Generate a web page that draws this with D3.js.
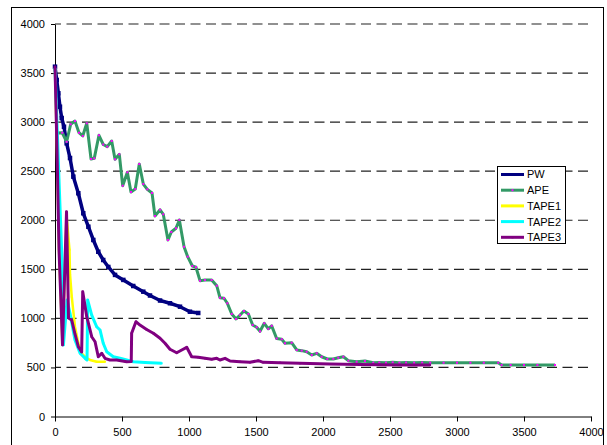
<!DOCTYPE html>
<html>
<head>
<meta charset="utf-8">
<script src="https://cdn.jsdelivr.net/npm/d3@7"></script>
<style>
  body { margin: 0; background: #fff; }
  svg { display: block; font-family: Arial, "Liberation Sans", sans-serif; }
</style>
</head>
<body>
<svg id="chart" width="607" height="445"></svg>
<script>
// series values, [x, y]
var pw = [[0,3565],[13,3429],[25,3294],[37,3157],[50,3042],[67,2953],[87,2784],[112,2634],
  [137,2444],[174,2275],[211,2071],[249,1934],[286,1799],[323,1679],[360,1595],[398,1524],
  [448,1443],[510,1392],[584,1330],[659,1272],[709,1233],[784,1182],[858,1154],[933,1119],
  [1007,1068],[1069,1055]];

var ape = [[15,2889],[54,2892],[87,2800],[117,2978],[149,3011],[179,2892],[207,2859],[237,2988],
  [269,2624],[293,2631],[328,2866],[360,2772],[390,2750],[423,2808],[448,2621],[480,2672],
  [505,2352],[540,2489],[567,2288],[599,2318],[629,2573],[659,2369],[689,2315],[724,2278],
  [746,2043],[784,2107],[808,2061],[843,1799],[868,1880],[903,1918],[928,2003],[963,1730],
  [990,1629],[1025,1534],[1052,1521],[1082,1384],[1119,1391],[1169,1391],[1207,1333],
  [1231,1211],[1261,1205],[1286,1154],[1319,1045],[1351,994],[1381,1034],[1410,1075],
  [1443,1045],[1475,933],[1505,909],[1530,868],[1562,950],[1592,894],[1617,924],[1654,795],
  [1692,787],[1716,746],[1766,752],[1804,678],[1841,671],[1878,660],[1916,627],[1953,644],
  [1990,609],[2032,586],[2077,586],[2114,599],[2152,609],[2189,569],[2251,558],[2313,566],
  [2375,548],[2420,550],[2470,548],[2520,552],[2570,548],[2620,550],[2680,548],[2740,550],
  [2800,548],[2900,548],[3000,548],[3100,548],[3200,548],[3308,548],[3333,525],[3400,525],
  [3500,525],[3600,525],[3731,525]];

var tape1 = [[0,3552],[15,2716],[30,1697],[56,740],[86,2050],[108,1700],[112,1450],[125,1221],
  [149,915],[174,746],[199,644],[224,609],[261,576],[311,558],[373,558]];

var tape2 = [[0,3552],[30,2410],[52,1595],[63,729],[90,1187],[112,1052],[149,780],[187,644],
  [224,593],[239,576],[244,1187],[274,1034],[311,915],[336,882],[360,746],[386,660],[435,609],
  [485,593],[535,576],[584,558],[672,550],[796,542]];

var tape3 = [[0,3567],[15,2716],[30,1697],[56,729],[86,2087],[101,1004],[125,983],[149,841],
  [175,708],[199,657],[207,1272],[237,1017],[274,813],[299,762],[323,609],[349,644],[373,593],
  [410,576],[460,576],[535,558],[569,560],[572,848],[604,966],[634,932],[684,887],[734,848],
  [784,797],[821,746],[858,685],[908,650],[946,678],[983,705],[1020,609],[1069,603],[1119,593],
  [1169,583],[1207,593],[1231,576],[1269,593],[1306,566],[1381,558],[1455,552],[1517,569],
  [1554,552],[1679,548],[1828,542],[2052,535],[2276,530],[2575,525],[2799,525]];

var seriesNames = ['PW', 'APE', 'TAPE1', 'TAPE2', 'TAPE3'];
var seriesData = [pw, ape, tape1, tape2, tape3];
var lineColors = ['#000080', '#339966', '#ffff00', '#00ffff', '#800080'];
var markerColors = ['#000080', '#ff00ff', '#ffff00', '#00ffff', '#800080'];
var tickValues = [0, 500, 1000, 1500, 2000, 2500, 3000, 3500, 4000];

var svg = d3.select('#chart');

// outer frame
svg.append('rect')
  .attr('x', 11.5).attr('y', 7.5)
  .attr('width', 592).attr('height', 442)
  .attr('fill', '#fff')
  .attr('stroke', '#000');

var x = d3.scaleLinear().domain([0, 4000]).range([55, 591]);
var y = d3.scaleLinear().domain([0, 4000]).range([416.5, 24]);

// dashed gridlines
svg.append('g')
  .selectAll('line')
  .data(tickValues.filter(function(d) { return d > 0; }))
  .join('line')
  .attr('x1', x(0)).attr('x2', x(4000))
  .attr('y1', function(d) { return y(d); })
  .attr('y2', function(d) { return y(d); })
  .attr('stroke', '#222')
  .attr('stroke-width', 1.2)
  .attr('stroke-dasharray', '10,5.5')
  .attr('stroke-dashoffset', 4);

// axes
var yAxis = svg.append('g')
  .attr('transform', 'translate(' + x(0) + ',0)')
  .call(d3.axisLeft(y).tickValues(tickValues).tickSize(4).tickSizeOuter(0).tickPadding(6)
    .tickFormat(function(d) { return d; }));
var xAxis = svg.append('g')
  .attr('transform', 'translate(0,' + y(0) + ')')
  .call(d3.axisBottom(x).tickValues(tickValues).tickSize(5).tickSizeOuter(0).tickPadding(7)
    .tickFormat(function(d) { return d; }));
[yAxis, xAxis].forEach(function(ax) {
  ax.attr('font-size', 11).attr('font-family', 'Arial, "Liberation Sans", sans-serif');
  ax.selectAll('path, line').attr('stroke', '#000');
  ax.selectAll('text').attr('fill', '#000');
});

var line = d3.line()
  .x(function(d) { return x(d[0]); })
  .y(function(d) { return y(d[1]); });

// series lines + markers
seriesData.forEach(function(data, i) {
  svg.append('path')
    .datum(data)
    .attr('d', line)
    .attr('fill', 'none')
    .attr('stroke', lineColors[i])
    .attr('stroke-width', i === 0 ? 3.5 : (i === 2 ? 2.5 : 3))
    .attr('stroke-linejoin', 'round');
  var ms = i === 0 ? 4.5 : 2;
  svg.append('g')
    .selectAll('rect')
    .data(data)
    .join('rect')
    .attr('x', function(d) { return x(d[0]) - ms / 2; })
    .attr('y', function(d) { return y(d[1]) - ms / 2; })
    .attr('width', ms).attr('height', ms)
    .attr('fill', markerColors[i]);
});

// legend
var legend = svg.append('g');
legend.append('rect')
  .attr('x', 497.5).attr('y', 166.5)
  .attr('width', 68).attr('height', 77)
  .attr('fill', '#fff')
  .attr('stroke', '#000');
seriesNames.forEach(function(name, i) {
  var ly = 174.5 + i * 15.7;
  legend.append('line')
    .attr('x1', 501).attr('x2', 524)
    .attr('y1', ly).attr('y2', ly)
    .attr('stroke', lineColors[i])
    .attr('stroke-width', 3);
  legend.append('rect')
    .attr('x', 511.5).attr('y', ly - 1)
    .attr('width', 2).attr('height', 2)
    .attr('fill', markerColors[i]);
  legend.append('text')
    .attr('x', 527).attr('y', ly)
    .attr('dy', '0.36em')
    .attr('font-size', 11)
    .text(name);
});
</script>
</body>
</html>
